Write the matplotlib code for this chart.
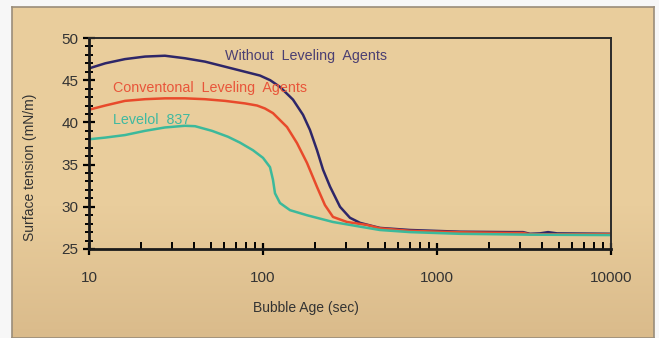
import numpy as np
import matplotlib.pyplot as plt
from matplotlib.ticker import FixedLocator, NullFormatter

plt.rcParams['font.family'] = 'Liberation Sans'

# bubble age (sec) / surface tension (mN/m)
without_x = [10, 12.4, 16.1, 21.0, 27.3, 35.6, 46.4, 60.5, 78.8, 96.1, 110, 125.2, 148.7,
             169.8, 186.2, 204.4, 221.3, 242.7, 277.1, 316, 361, 429, 470, 700, 1356, 2630,
             3120, 3420, 3910, 4345, 4900, 10000]
without_y = [46.4, 47.0, 47.5, 47.8, 47.9, 47.6, 47.2, 46.6, 46.0, 45.55, 45.0, 44.2, 42.7,
             40.9, 39.1, 36.7, 34.4, 32.4, 30.0, 28.7, 28.1, 27.7, 27.5, 27.25, 27.05, 27.0,
             27.0, 26.8, 26.85, 27.0, 26.85, 26.8]

conv_x = [10, 12.4, 16.1, 21.0, 27.3, 35.6, 46.4, 60.5, 78.8, 92.4, 102.6, 114.1, 137.4,
          156.8, 179, 204.4, 227, 252.5, 304, 396, 470, 700, 1356, 2630, 3120, 3420, 10000]
conv_y = [41.5, 42.0, 42.55, 42.75, 42.85, 42.85, 42.75, 42.55, 42.25, 42.0, 41.65, 41.1,
          39.45, 37.55, 35.2, 32.35, 30.2, 28.8, 28.2, 27.85, 27.45, 27.15, 26.98, 26.9,
          26.9, 26.75, 26.75]

levelol_x = [10, 12.4, 16.1, 21.0, 27.3, 35.6, 40.7, 50.9, 62.9, 73.8, 87.6, 100, 109.7,
             114.1, 117.2, 125.2, 143, 179, 252.5, 361, 470, 700, 1356, 3290, 10000]
levelol_y = [38.0, 38.2, 38.5, 39.0, 39.4, 39.6, 39.55, 39.0, 38.3, 37.6, 36.7, 35.8, 34.7,
             33.2, 31.6, 30.45, 29.6, 29.0, 28.2, 27.65, 27.25, 27.0, 26.8, 26.7, 26.65]

labels = ['Without  Leveling  Agents', 'Conventonal  Leveling  Agents', 'Levelol  837']
label_pos = [(60.5, 47.9), (13.7, 44.1), (13.7, 40.3)]
line_colors = ['#2e2668', '#e84a2b', '#3cb99b']
text_colors = ['#4b3f72', '#e8553a', '#3fb9a0']

fig = plt.figure(figsize=(6.59, 3.38), dpi=100, facecolor='#f7f7f7')

# tan panel with a slightly darker bottom
bg = fig.add_axes([12 / 659, 0, (654 - 12) / 659, (338 - 7) / 338])
grad = np.linspace(0, 1, 256)[:, None]
top = np.array([0.914, 0.804, 0.612])
bot = np.array([0.855, 0.733, 0.545])
w = np.clip((grad - 0.6) / 0.4, 0, 1)
img = top * (1 - w[..., None]) + bot * w[..., None]
img = np.repeat(img, 4, axis=1)
bg.imshow(img, aspect='auto', extent=[0, 1, 0, 1], origin='upper')
bg.set_xticks([])
bg.set_yticks([])
for s in bg.spines.values():
    s.set_color('#9a8d7a')
    s.set_linewidth(1.2)

ax = fig.add_axes([89 / 659, (338 - 249) / 338, (611 - 89) / 659, (249 - 38) / 338])
ax.patch.set_alpha(0)

for xs, ys, c in zip([without_x, conv_x, levelol_x], [without_y, conv_y, levelol_y], line_colors):
    ax.plot(xs, ys, color=c, lw=1.8, solid_capstyle='round', solid_joinstyle='round')

for lab, (tx, ty), c in zip(labels, label_pos, text_colors):
    ax.text(tx, ty, lab, color=c, fontsize=10.3, va='center', ha='left')

ax.set_xscale('log')
ax.set_xlim(10, 10000)
ax.set_ylim(25, 50)

ax.xaxis.set_major_locator(FixedLocator([10, 100, 1000, 10000]))
ax.set_xticklabels(['10', '100', '1000', '10000'])
minors = [m * d for d in (10, 100, 1000) for m in range(2, 10)]
ax.xaxis.set_minor_locator(FixedLocator(minors))
ax.xaxis.set_minor_formatter(NullFormatter())
ax.yaxis.set_major_locator(FixedLocator([25, 30, 35, 40, 45, 50]))
ax.yaxis.set_minor_locator(FixedLocator(np.arange(25, 51, 1)))

ax.tick_params(axis='x', which='major', direction='inout', length=9, width=1.6,
               pad=11, labelsize=11, labelcolor='#333333')
ax.tick_params(axis='x', which='minor', direction='in', length=5, width=1.4)
ax.tick_params(axis='y', which='major', direction='inout', length=9, width=1.6,
               pad=3, labelsize=11, labelcolor='#333333')
ax.tick_params(axis='y', which='minor', direction='inout', length=6, width=1.4)

for side in ('left', 'bottom'):
    ax.spines[side].set_linewidth(2)
    ax.spines[side].set_color('#1a1a1a')
for side in ('top', 'right'):
    ax.spines[side].set_linewidth(1.4)
    ax.spines[side].set_color('#2a2a2a')

ax.set_xlabel('Bubble Age (sec)', fontsize=10, color='#333333')
ax.xaxis.set_label_coords(0.416, -0.245)
ax.set_ylabel('Surface tension (mN/m)', fontsize=10, color='#333333')
ax.yaxis.set_label_coords(-0.1, 0.386)

plt.savefig('out.png', dpi=100, facecolor=fig.get_facecolor())
